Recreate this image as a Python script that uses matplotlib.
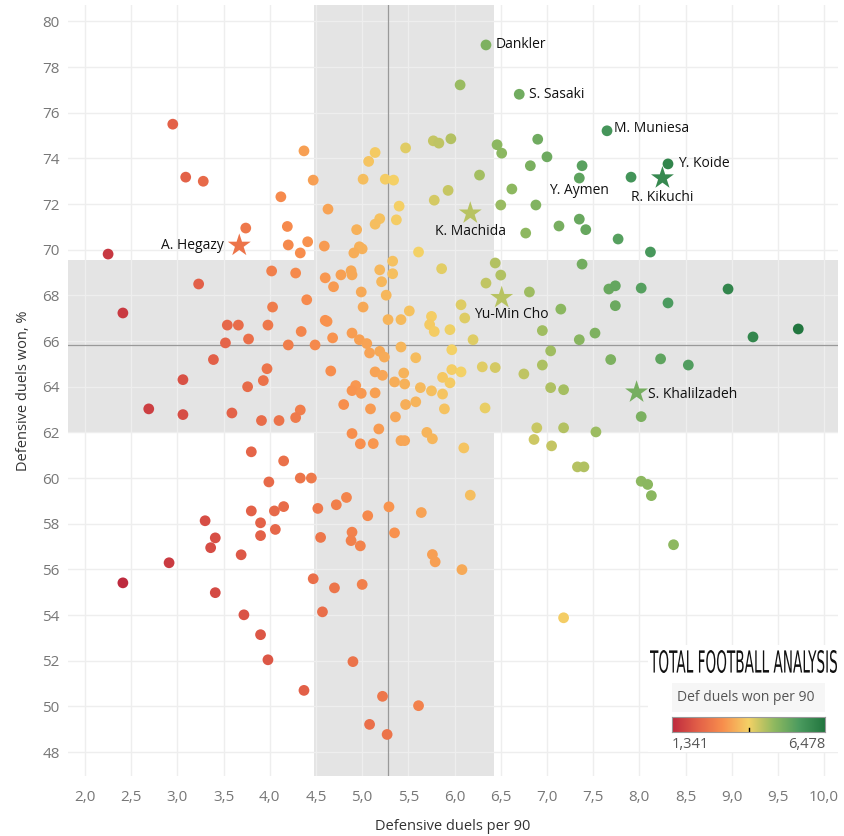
import matplotlib
matplotlib.use('Agg')
import matplotlib.pyplot as plt
import numpy as np
from matplotlib.colors import LinearSegmentedColormap, Normalize
from matplotlib.patches import Rectangle, PathPatch
from matplotlib.textpath import TextPath
from matplotlib.font_manager import FontProperties
from matplotlib.transforms import Affine2D, IdentityTransform

# ---------------- data ----------------
duels_per90 = [
    2.95, 3.09, 3.28, 4.12, 3.74, 4.19, 4.20, 4.33, 2.25, 4.02, 4.28, 3.23, 4.37, 6.34, 6.06, 6.70,
    5.77, 5.83, 5.96, 5.47, 5.14, 5.07, 4.47, 5.01, 5.25, 5.34, 6.46, 6.51, 6.90, 7.00, 6.82, 7.38,
    7.35, 6.27, 5.93, 6.62, 5.78, 6.50, 6.88, 4.63, 5.40, 5.37, 5.19, 5.14, 4.94, 7.35, 7.42, 7.13,
    6.77, 4.41, 4.59, 4.97, 5.00, 4.91, 5.61, 5.86, 6.44, 6.50, 6.34, 6.81, 7.38, 5.19, 5.33, 5.33,
    5.21, 5.26, 4.99, 4.60, 4.69, 4.77, 4.88, 4.89, 4.40, 7.65, 8.31, 7.91, 7.77, 8.12, 7.67, 7.74,
    8.02, 8.96, 8.31, 7.15, 7.74, 6.95, 7.52, 7.35, 9.72, 9.23, 7.04, 6.95, 7.69, 8.23, 8.53, 7.04,
    7.18, 8.02, 7.18, 7.53, 7.05, 7.33, 7.40, 8.02, 8.09, 8.13, 8.37, 7.18, 5.01, 5.51, 6.07, 6.11,
    5.75, 5.73, 5.78, 5.95, 5.42, 5.28, 4.60, 4.62, 4.34, 4.68, 4.89, 4.97, 5.05, 4.49, 5.42, 5.97,
    6.20, 5.08, 5.19, 5.24, 5.58, 4.66, 5.14, 5.22, 5.45, 5.97, 6.07, 6.30, 6.44, 6.75, 5.35, 5.46,
    5.87, 5.95, 5.63, 5.75, 5.87, 5.89, 6.33, 4.93, 4.89, 4.99, 5.14, 4.80, 5.09, 5.47, 5.58, 5.36,
    5.18, 4.89, 4.98, 5.12, 5.42, 5.46, 5.70, 5.76, 6.10, 6.89, 6.86, 4.33, 4.28, 4.33, 4.45, 4.83,
    6.17, 2.41, 4.03, 3.54, 3.66, 3.98, 3.77, 3.52, 4.20, 3.39, 3.97, 3.06, 3.93, 3.76, 2.69, 3.06,
    3.59, 3.91, 4.10, 3.80, 4.15, 3.99, 3.80, 4.05, 4.15, 3.90, 3.30, 3.90, 4.06, 3.41, 3.36, 3.69,
    2.91, 2.41, 3.41, 3.72, 3.90, 3.98, 4.37, 4.52, 4.72, 5.06, 5.29, 5.64, 4.55, 4.89, 4.88, 4.98,
    5.35, 5.76, 5.79, 6.08, 4.47, 4.70, 5.00, 4.57, 4.90, 5.22, 5.61, 5.08, 5.27,
]
duels_won_pct = [
    75.50, 73.18, 73.00, 72.32, 70.95, 71.02, 70.21, 69.86, 69.81, 69.07, 68.98, 68.50, 74.33, 78.97, 77.22, 76.81,
    74.77, 74.67, 74.86, 74.46, 74.26, 73.87, 73.05, 73.09, 73.09, 73.05, 74.60, 74.23, 74.84, 74.07, 73.68, 73.68,
    73.14, 73.27, 72.60, 72.66, 72.17, 71.96, 71.96, 71.78, 71.91, 71.31, 71.36, 71.12, 70.88, 71.34, 70.88, 71.04,
    70.73, 70.35, 70.16, 70.13, 70.04, 69.86, 69.90, 69.17, 69.42, 68.89, 68.54, 68.15, 69.37, 69.12, 69.50, 68.95,
    68.60, 68.01, 68.15, 68.77, 68.38, 68.90, 69.08, 68.90, 67.81, 75.21, 73.76, 73.18, 70.47, 69.90, 68.28, 68.42,
    68.32, 68.28, 67.67, 67.40, 67.55, 66.46, 66.35, 66.06, 66.53, 66.18, 65.57, 64.95, 65.19, 65.22, 64.95, 63.96,
    63.87, 62.69, 62.20, 62.02, 61.41, 60.49, 60.49, 59.86, 59.72, 59.23, 57.08, 53.88, 67.49, 67.32, 67.59, 67.01,
    67.08, 66.72, 66.42, 66.50, 66.94, 66.94, 66.91, 66.86, 66.42, 66.14, 66.35, 66.06, 65.89, 65.83, 65.74, 65.62,
    66.06, 65.48, 65.55, 65.30, 65.27, 64.69, 64.65, 64.50, 64.60, 64.75, 64.65, 64.87, 64.84, 64.56, 64.21, 64.12,
    64.41, 64.17, 63.96, 63.82, 63.68, 63.03, 63.07, 64.05, 63.83, 63.71, 63.73, 63.22, 63.03, 63.22, 63.34, 62.68,
    62.15, 61.95, 61.50, 61.51, 61.64, 61.64, 62.00, 61.72, 61.32, 62.20, 61.69, 62.98, 62.65, 60.00, 60.00, 59.15,
    59.25, 67.23, 67.49, 66.70, 66.70, 66.70, 66.09, 65.92, 65.83, 65.19, 64.79, 64.31, 64.27, 64.00, 63.03, 62.78,
    62.85, 62.52, 62.52, 61.15, 60.75, 59.83, 58.56, 58.56, 58.75, 58.04, 58.13, 57.48, 57.75, 57.38, 56.95, 56.64,
    56.29, 55.41, 54.98, 54.01, 53.14, 52.04, 50.70, 58.67, 58.83, 58.35, 58.74, 58.49, 57.40, 57.63, 57.26, 57.03,
    57.60, 56.65, 56.33, 55.99, 55.59, 55.19, 55.34, 54.14, 51.96, 50.44, 50.03, 49.21, 48.77,
]

# highlighted players (stars)
star_names = ["A. Hegazy", "K. Machida", "Yu-Min Cho", "R. Kikuchi", "S. Khalilzadeh"]
star_x = [3.67, 6.17, 6.51, 8.25, 7.97]
star_y = [70.19, 71.60, 67.90, 73.14, 63.76]

# labelled circle players
label_names = ["Dankler", "S. Sasaki", "M. Muniesa", "Y. Koide", "Y. Aymen"]
label_x = [6.34, 6.70, 7.65, 8.31, 7.35]
label_y = [78.97, 76.81, 75.21, 73.76, 73.14]

# reference lines / bands
median_x = 5.28
median_y = 65.83
band_x = (4.48, 6.43)
band_y = (62.0, 69.53)
cmin, cmax = 1.341, 6.478

x_ticks = [2.0, 2.5, 3.0, 3.5, 4.0, 4.5, 5.0, 5.5, 6.0, 6.5, 7.0, 7.5, 8.0, 8.5, 9.0, 9.5, 10.0]
y_ticks = [48, 50, 52, 54, 56, 58, 60, 62, 64, 66, 68, 70, 72, 74, 76, 78, 80]

# ---------------- style ----------------
plt.rcParams['font.family'] = ['Open Sans', 'DejaVu Sans']
cmap = LinearSegmentedColormap.from_list(
    'rgg', ['#be2a3e', '#e25f48', '#f88f4d', '#f4d166', '#90b960', '#4b9b5f', '#22763f'])
norm = Normalize(vmin=cmin, vmax=cmax)

W, H = 844, 836
fig = plt.figure(figsize=(W / 100, H / 100), dpi=100)
ax = fig.add_axes([68/W, 1 - 776/H, (838-68)/W, (776-5)/H])
ax.set_xlim(1.816, 10.15)
ax.set_ylim(46.95, 80.72)

ax.axvspan(*band_x, color='#e4e4e4', lw=0, zorder=0)
ax.axhspan(*band_y, color='#e4e4e4', lw=0, zorder=0)
ax.set_xticks(x_ticks)
ax.set_yticks(y_ticks)
ax.grid(True, color='#eeeeee', lw=1.0, zorder=0.5)
ax.set_axisbelow(True)
for s in ax.spines.values():
    s.set_visible(False)
ax.tick_params(length=0, colors='#777777', labelsize=11)
ax.tick_params(axis='x', pad=10)
ax.tick_params(axis='y', pad=6)
ax.set_xticklabels([f"{t:.1f}".replace('.', ',') for t in x_ticks])
ax.set_yticklabels([str(t) for t in y_ticks])

ax.axvline(median_x, color='#999999', lw=0.9, zorder=1)
ax.axhline(median_y, color='#999999', lw=0.9, zorder=1)

xv = np.array(duels_per90)
yv = np.array(duels_won_pct)
ax.scatter(xv, yv, c=xv * yv / 100, cmap=cmap, norm=norm, s=60, lw=0, zorder=3)

sx = np.array(star_x)
sy = np.array(star_y)
ax.scatter(sx, sy, c=sx * sy / 100, cmap=cmap, norm=norm, s=300, marker='*', lw=0, zorder=4)

txt_kw = dict(fontsize=10, color='#111111', zorder=5)
lab_off = {"Dankler": (7, 0, 'left'), "S. Sasaki": (7, 0, 'left'), "M. Muniesa": (5, 2, 'left'),
           "Y. Koide": (7, 0, 'left'), "Y. Aymen": (0, -9, 'center')}
for n, x, y in zip(label_names, label_x, label_y):
    dx, dy, ha = lab_off[n]
    ax.annotate(n, (x, y), xytext=(dx, dy), textcoords='offset points', ha=ha, va='center', **txt_kw)
star_off = {"A. Hegazy": (-11, 0, 'right'), "K. Machida": (0, -13, 'center'),
            "Yu-Min Cho": (7, -12, 'center'), "R. Kikuchi": (0, -14, 'center'),
            "S. Khalilzadeh": (8, -2, 'left')}
for n, x, y in zip(star_names, star_x, star_y):
    dx, dy, ha = star_off[n]
    ax.annotate(n, (x, y), xytext=(dx, dy), textcoords='offset points', ha=ha, va='center', **txt_kw)

ax.set_xlabel('Defensive duels per 90', fontsize=10.5, color='#333333', labelpad=10)
ax.set_ylabel('Defensive duels won, %', fontsize=10.5, color='#333333', labelpad=8)

# ---------------- legend block ----------------
def fx(px): return px / W
def fy(py): return 1 - py / H

fig.patches.append(Rectangle((fx(648), fy(752)), (838-648)/W, (752-645)/H,
                             transform=fig.transFigure, facecolor='white', edgecolor='none', zorder=5))
fig.patches.append(Rectangle((fx(672), fy(712)), (825-672)/W, (712-683)/H,
                             transform=fig.transFigure, facecolor='#f6f6f6', edgecolor='none', zorder=6))

# logo: tall, narrow lettering fitted into its box
tp = TextPath((0, 0), 'TOTAL FOOTBALL ANALYSIS', size=20,
              prop=FontProperties(family='DejaVu Sans', weight='normal'))
ext = tp.get_extents()
x0, x1, y0, y1 = 650, 837, 650, 673   # pixel box (top-left origin)
sxs = (x1 - x0) / ext.width
sys_ = (y1 - y0) / ext.height
tr = Affine2D().translate(-ext.x0, -ext.y0).scale(sxs, sys_).translate(x0, H - y1)
logo = PathPatch(tr.transform_path(tp), transform=IdentityTransform(), facecolor='#111111',
                 edgecolor='none', zorder=7)
fig.patches.append(logo)

fig.text(fx(677), fy(697.5), 'Def duels won per 90', ha='left', va='center', fontsize=10,
         color='#555555', zorder=7)

cax = fig.add_axes([fx(672), fy(732), (825-672)/W, 15/H])
cax.set_zorder(8)
grad = np.linspace(0, 1, 256).reshape(1, -1)
cax.imshow(grad, aspect='auto', cmap=cmap, extent=(0, 1, 0, 1))
cax.plot([0.5, 0.5], [0, 0.3], color='black', lw=1)
cax.set_xlim(0, 1); cax.set_ylim(0, 1)
cax.set_xticks([]); cax.set_yticks([])
for s in cax.spines.values():
    s.set_color('#999999'); s.set_linewidth(0.8)
fig.text(fx(672), fy(745), f"{cmin:,.3f}".replace('.', ','), ha='left', va='center', fontsize=10.5,
         color='#555555', zorder=7)
fig.text(fx(825), fy(745), f"{cmax:,.3f}".replace('.', ','), ha='right', va='center', fontsize=10.5,
         color='#555555', zorder=7)

fig.savefig('out.png', dpi=100, facecolor='white')
